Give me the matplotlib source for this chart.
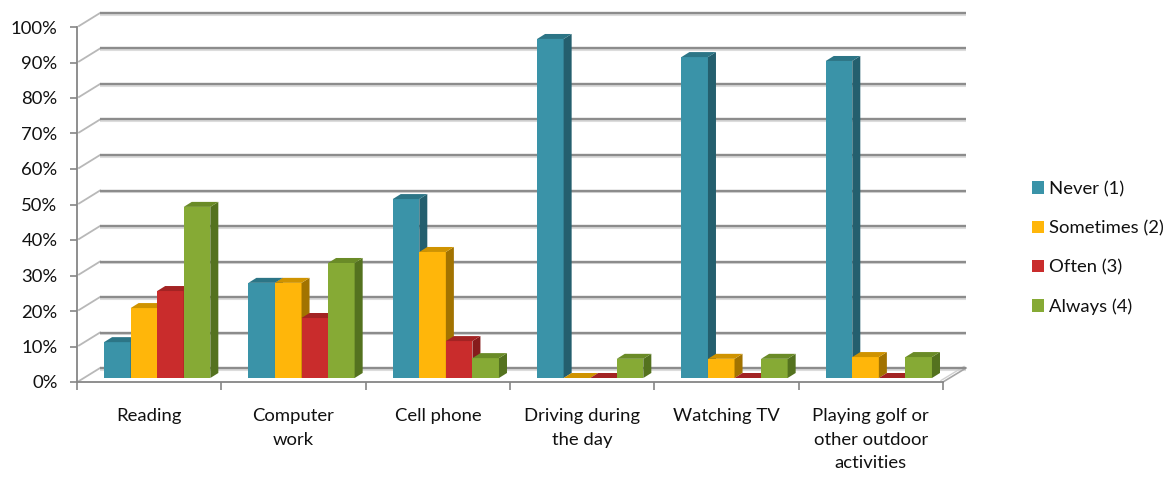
import matplotlib
matplotlib.use('Agg')
from matplotlib import pyplot
from matplotlib.patches import Patch, Polygon

# Data (percent of respondents)
categories = ['Reading', 'Computer\nwork', 'Cell phone', 'Driving during\nthe day',
              'Watching TV', 'Playing golf or\nother outdoor\nactivities']
series_names = ['Never (1)', 'Sometimes (2)', 'Often (3)', 'Always (4)']
never = [10.1, 26.8, 50.4, 95.5, 90.4, 89.3]
sometimes = [19.7, 26.8, 35.5, 0.0, 5.4, 5.9]
often = [24.5, 16.9, 10.4, 0.0, 0.0, 0.0]
always = [48.2, 32.4, 5.6, 5.4, 5.4, 5.9]
y_ticks = [0, 10, 20, 30, 40, 50, 60, 70, 80, 90, 100]
y_tick_labels = ['%d%%' % t for t in y_ticks]

# Styles
front_colors = ['#3A93A8', '#FFB60A', '#C92C2C', '#86AA35']
top_colors = ['#2C7586', '#CF9300', '#A32323', '#6A8B27']
side_colors = ['#245F6E', '#A27300', '#861C1C', '#54721F']
grid_color = '#8c8c8c'
font = ['Lato', 'DejaVu Sans']
fsize = 13.3

pyplot.rcParams['font.family'] = font

# pixel -> data unit factors (category = 144 px, 100% = 355 px)
PX_X = 1 / 144.0
PX_Y = 100 / 355.0
wall_dx, wall_dy = 23 * PX_X, 14 * PX_Y
bar_dx, bar_dy = 8 * PX_X, 5 * PX_Y
bar_floor = 4 * PX_Y
bar_shift = 27 * PX_X
bar_w = 26.5 * PX_X

fig = pyplot.figure(figsize=(11.68, 4.8), dpi=100)
ax = fig.add_axes([77 / 1168, 1 - 382 / 480, 866 / 1168, 355 / 480])
ax.set_xlim(0, len(categories))
ax.set_ylim(0, 100)

# back wall gridlines + side wall diagonals
n = len(categories)
for t in y_ticks:
    ax.plot([wall_dx, n + wall_dx], [t + wall_dy - 1.8 * PX_Y, t + wall_dy - 1.8 * PX_Y],
            color='#dcdcdc', lw=1.5, zorder=1, clip_on=False, solid_capstyle='butt')
    ax.plot([wall_dx, n + wall_dx], [t + wall_dy, t + wall_dy],
            color=grid_color, lw=1.7, zorder=1.1, clip_on=False, solid_capstyle='butt')
    ax.plot([2 * PX_X, wall_dx], [t + 1 * PX_Y, t + wall_dy],
            color='#b8b8b8', lw=1.3, zorder=1, clip_on=False)

# floor right edge
ax.plot([n, n + wall_dx], [0, wall_dy], color='#a6a6a6', lw=1.2, zorder=1, clip_on=False)
ax.plot([n - 2 * PX_X, n + wall_dx - 2 * PX_X], [1.5 * PX_Y, wall_dy + 1.5 * PX_Y],
        color='#d0d0d0', lw=1.0, zorder=1, clip_on=False)

series = [never, sometimes, often, always]
for i in range(n):
    for j, vals in enumerate(series):
        v = vals[i]
        x0 = i + bar_shift + j * bar_w
        y0 = bar_floor
        y1 = bar_floor + v
        ax.bar(x0, v, width=bar_w, bottom=y0, align='edge',
               color=front_colors[j], edgecolor='none', zorder=3 + i * 4 + j)
        side = Polygon([(x0 + bar_w, y0), (x0 + bar_w + bar_dx, y0 + bar_dy),
                        (x0 + bar_w + bar_dx, y1 + bar_dy), (x0 + bar_w, y1)],
                       closed=True, facecolor=side_colors[j], edgecolor='none',
                       zorder=3 + i * 4 + j)
        top = Polygon([(x0, y1), (x0 + bar_w, y1), (x0 + bar_w + bar_dx, y1 + bar_dy),
                       (x0 + bar_dx, y1 + bar_dy)],
                      closed=True, facecolor=top_colors[j], edgecolor='none',
                      zorder=3 + i * 4 + j)
        ax.add_patch(side)
        ax.add_patch(top)

# axes styling
for s in ['top', 'right']:
    ax.spines[s].set_visible(False)
for s in ['left', 'bottom']:
    ax.spines[s].set_color('#868686')
    ax.spines[s].set_linewidth(1.3)
ax.set_yticks(y_ticks, y_tick_labels)
ax.tick_params(axis='y', length=5, width=1.2, color='#868686', pad=9,
               labelsize=fsize, labelcolor='#111111')
ax.set_xticks(range(n + 1))
ax.set_xticklabels([])
ax.tick_params(axis='x', which='major', length=6, width=1.2, color='#868686')
ax.set_xticks([i + 0.5 for i in range(n)], minor=True)
ax.set_xticklabels(categories, minor=True, fontsize=fsize, color='#111111', linespacing=1.55)
ax.tick_params(axis='x', which='minor', length=0, pad=19)
for lbl in ax.get_xticklabels(minor=True):
    lbl.set_verticalalignment('top')

handles = [Patch(facecolor=c, edgecolor='none') for c in front_colors]
fig.legend(handles, series_names, loc='center left', bbox_to_anchor=(1015 / 1168, 1 - 248 / 480),
           frameon=False, fontsize=fsize, handlelength=0.65, handleheight=0.65,
           handletextpad=0.3, labelspacing=1.25, labelcolor='#111111')

fig.savefig('out.png', dpi=100)
